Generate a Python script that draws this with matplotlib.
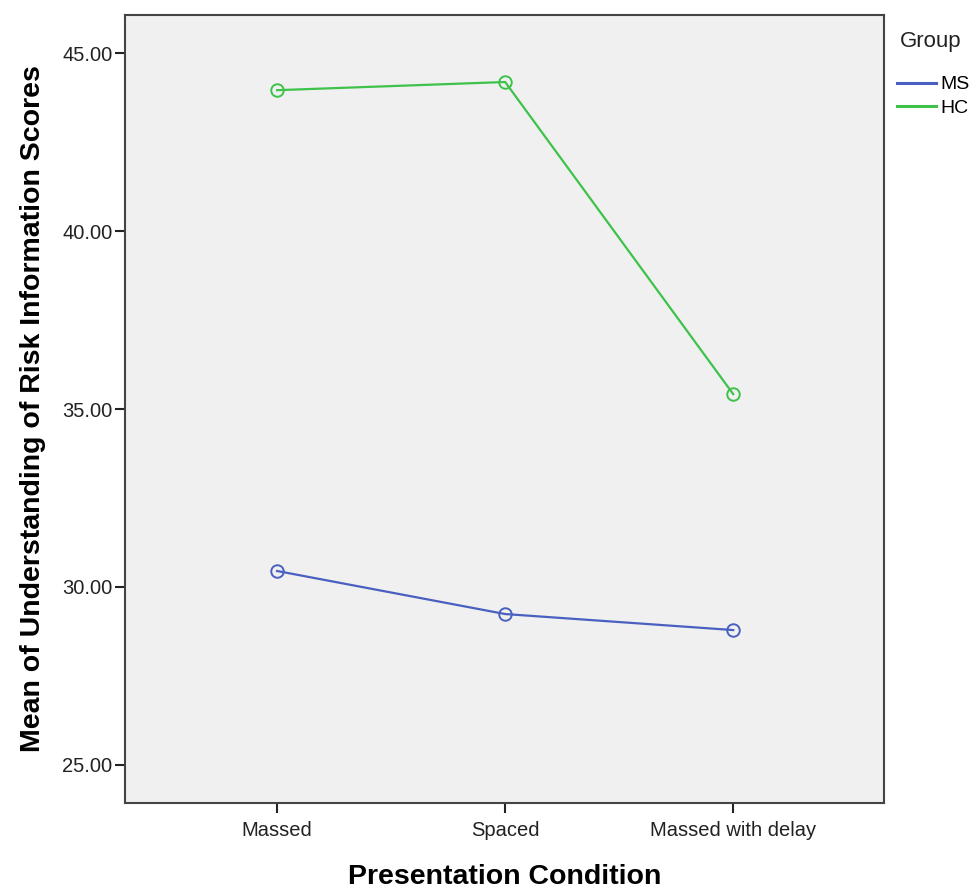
import matplotlib
matplotlib.use("Agg")
import matplotlib.pyplot as plt
from matplotlib.lines import Line2D

plt.rcParams['font.family'] = ['Liberation Sans', 'DejaVu Sans']

conditions = ["Massed", "Spaced", "Massed with delay"]
ms_means = [30.45, 29.24, 28.79]
hc_means = [43.96, 44.19, 35.42]
y_ticks = [25.0, 30.0, 35.0, 40.0, 45.0]
groups = ["MS", "HC"]
colors = ['#4a60c0', '#3ec24a']

fig = plt.figure(figsize=(9.69, 8.88), dpi=100)
ax = fig.add_axes([0.129, 0.0957, 0.783, 0.8873])
ax.set_facecolor('#f0f0f0')

x = list(range(len(conditions)))
for vals, c, g in zip([ms_means, hc_means], colors, groups):
    ax.plot(x, vals, color=c, lw=1.6, marker='o', ms=9,
            mfc='none', mew=1.4, label=g)

ax.set_xlim(-0.667, 2.66)
ax.set_ylim(23.93, 46.07)
ax.set_xticks(x)
ax.set_xticklabels(conditions)
ax.set_yticks(y_ticks)
ax.set_yticklabels(["%.2f" % v for v in y_ticks])
ax.tick_params(length=7, width=1.5, color='#222222', labelsize=14.5,
               labelcolor='#222222')
ax.tick_params(axis='x', pad=6)
ax.tick_params(axis='y', pad=2)

for s in ax.spines.values():
    s.set_color('#444444')
    s.set_linewidth(1.5)

ax.set_xlabel("Presentation Condition", fontsize=20.5, fontweight='bold', labelpad=17)
ax.set_ylabel("Mean of Understanding of Risk Information Scores", fontsize=20.5,
              fontweight='bold', labelpad=12)

# 凡例 (マーカーなしの線)
handles = [Line2D([], [], color=c, lw=2.2) for c in colors]
fig.text(0.929, 0.953, "Group", fontsize=16, color='#222222', va='center')
fig.legend(handles, groups, loc='upper left', bbox_to_anchor=(0.912, 0.93),
           frameon=False, fontsize=14, handlelength=2.0, handletextpad=0.2,
           labelspacing=0.3, borderpad=0.2)

fig.savefig('out.png', dpi=100)
